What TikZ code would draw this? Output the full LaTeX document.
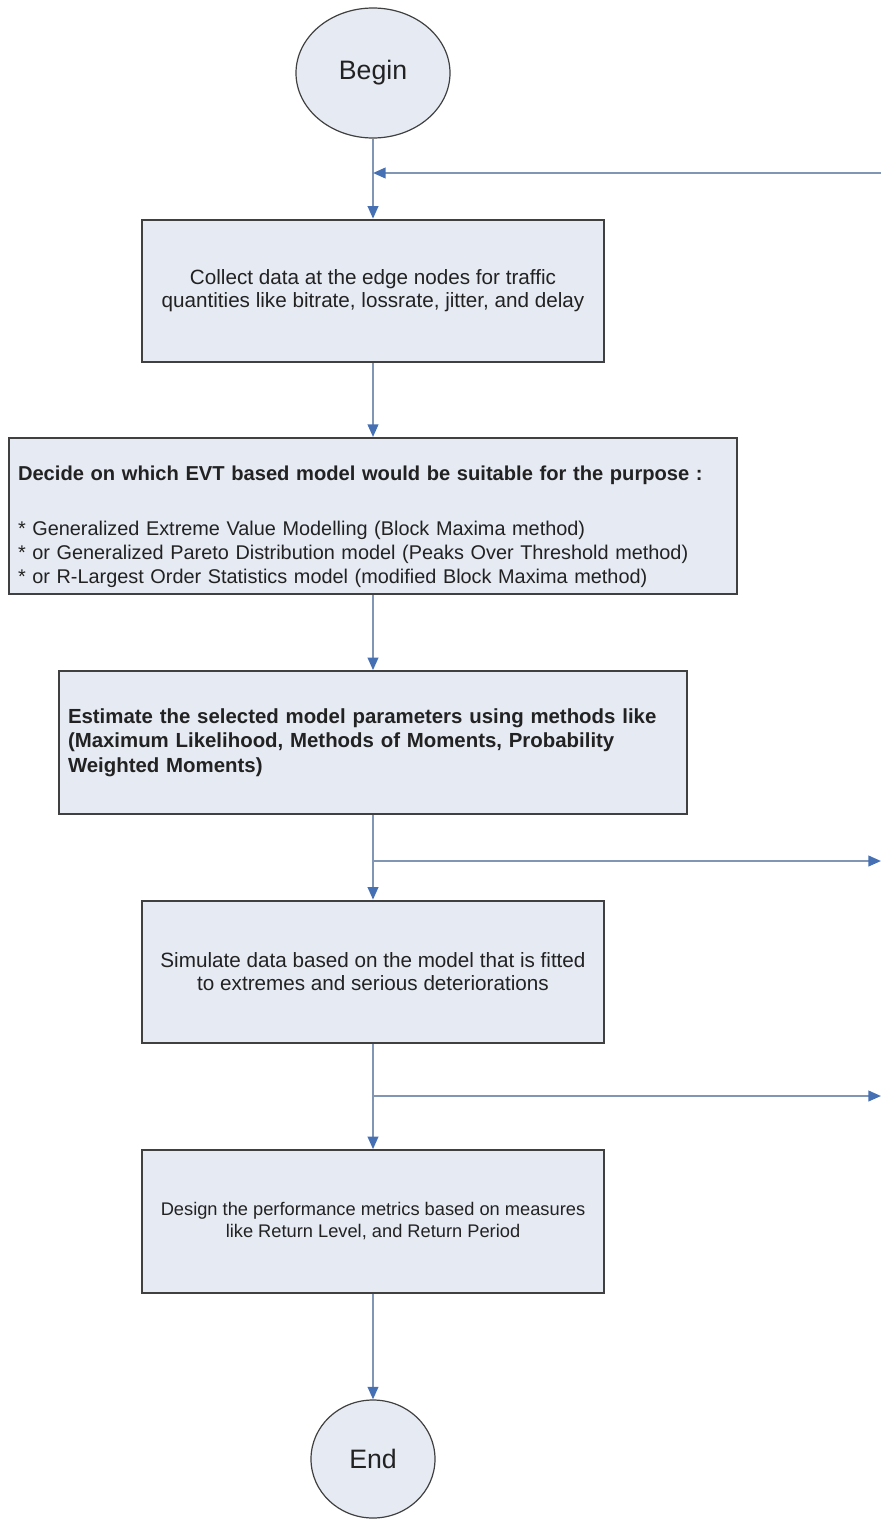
\documentclass[tikz,border=0pt]{standalone}
\usepackage{fontspec}
\setmainfont{Liberation Sans}
\usetikzlibrary{arrows.meta,shapes.geometric}
\definecolor{fcfill}{HTML}{E5EAF3}
\definecolor{fcline}{HTML}{8096B2}
\definecolor{fctip} {HTML}{4570B4}
\definecolor{fcedge}{HTML}{404040}
\definecolor{fctext}{HTML}{222222}

\begin{document}
\begin{tikzpicture}[x=0.75pt, y=-0.75pt,
      >={Triangle[length=9.5pt, width=8pt, color=fctip]},
      term/.style={ellipse, draw=fcedge, line width=0.9pt, fill=fcfill, text=fctext,
                   font=\fontsize{20}{24}\selectfont, inner sep=0pt},
      proc/.style={draw=fcedge, line width=1.5pt, fill=fcfill, text=fctext,
                   font=\fontsize{15.5}{17.25}\selectfont, align=center, inner sep=0pt,
                   minimum width=346.5pt, minimum height=107pt},
      wide/.style={proc, align=left, inner xsep=6.75pt},
      flow/.style={fcline, line width=1.5pt, ->},
    ]
      \useasboundingbox (0,0) rectangle (881,1520);

      \node[term, minimum width=115.5pt, minimum height=97.5pt] (begin) at (373,73) {Begin};
      \node[proc] (collect) at (373,291)
        {Collect data at the edge nodes for traffic\\
         quantities like bitrate, lossrate, jitter, and delay};
      \node[wide, text width=532.5pt, minimum height=117pt,
            font=\fontsize{14.9}{18}\selectfont] (decide) at (373,516)
        {\rule{0pt}{27.5pt}{\fontsize{15.1}{18}\selectfont\bfseries
           Decide on which EVT based model would be suitable for the purpose :}\\[23pt]
         {*} Generalized Extreme Value Modelling (Block Maxima method)\\
         {*} or Generalized Pareto Distribution model (Peaks Over Threshold method)\\
         {*} or R-Largest Order Statistics model (modified Block Maxima method)};
      \node[wide, text width=457.5pt, font=\bfseries\fontsize{15.3}{18.4}\selectfont]
        (estim) at (373,742.5)
        {Estimate the selected model parameters using methods like\\
         (Maximum Likelihood, Methods of Moments, Probability\\
         Weighted Moments)};
      \node[proc] (simul) at (373,972)
        {Simulate data based on the model that is fitted\\
         to extremes and serious deteriorations};
      \node[proc, font=\fontsize{13.7}{16.5}\selectfont] (design) at (373,1221.5)
        {Design the performance metrics based on measures\\
         like Return Level, and Return Period};
      \node[term, minimum width=93pt, minimum height=88.5pt] (end) at (373,1459) {End};

      \coordinate (loopin) at (881,173);
      \coordinate (outA)   at (881,861);
      \coordinate (outB)   at (881,1096);

      % main flow
      \draw[flow] (begin)   -- (collect);
      \draw[flow] (collect) -- (decide);
      \draw[flow] (decide)  -- (estim);
      \draw[flow] (estim)   -- (simul);
      \draw[flow] (simul)   -- (design);
      \draw[flow] (design)  -- (end);

      % side branches
      \draw[flow] (loopin) -- (begin.south |- loopin);
      \draw[flow] (estim.south |- outA) -- (outA);
      \draw[flow] (simul.south |- outB) -- (outB);
    \end{tikzpicture}
\end{document}
